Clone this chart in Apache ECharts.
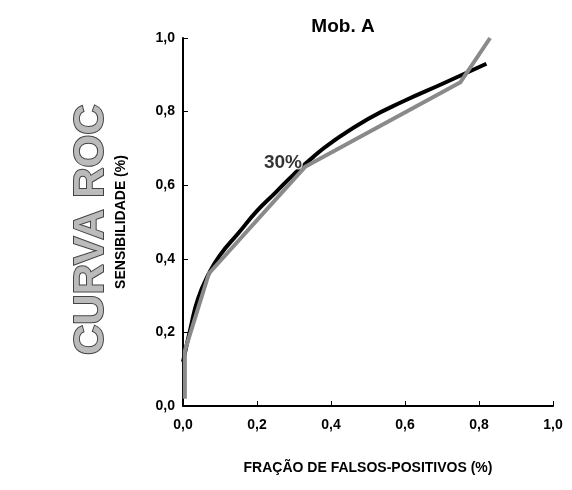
<!DOCTYPE html><html><head><meta charset="utf-8"><script src="https://cdn.jsdelivr.net/npm/echarts@6/dist/echarts.min.js"></script></head><body style="margin:0;background:#fff"><div id="c" style="width:572px;height:490px"></div><script>
const xTicks=[0,0.2,0.4,0.6,0.8,1.0];
const blackCurve=[[0,0.12],[0.02,0.21],[0.04,0.29],[0.07,0.36],[0.1,0.41],[0.15,0.47],[0.2,0.53],[0.25,0.58],[0.3,0.63],[0.35,0.675],[0.4,0.715],[0.5,0.78],[0.6,0.83],[0.7,0.875],[0.82,0.93]];
const grayCurve=[[0.005,0.02],[0.005,0.15],[0.07,0.36],[0.33,0.65],[0.75,0.88],[0.83,1.0]];
const label30=[[0.27,0.66]];
const ch=echarts.init(document.getElementById('c'));
const F='Liberation Sans Narrow, Liberation Sans';
ch.setOption({
title:{text:'Mob. A',left:338,top:12,textAlign:'center',textStyle:{fontFamily:'Liberation Sans',fontWeight:'bold',fontSize:19,color:'#000'}},
graphic:[{type:'text',x:70,y:355,rotation:Math.PI/2,style:{text:'CURVA ROC',fontFamily:'Liberation Sans',fontWeight:'bold',fontSize:42,fill:'#bbb',stroke:'#444',lineWidth:2}}],
grid:{left:183,right:19,top:38,bottom:84},
xAxis:{type:'value',min:0,max:1,interval:0.2,name:'FRAÇÃO DE FALSOS-POSITIVOS (%)',nameLocation:'middle',nameGap:55,nameTextStyle:{fontFamily:'Liberation Sans',fontWeight:'bold',fontSize:14,color:'#000'},axisLine:{lineStyle:{color:'#000',width:2}},axisTick:{inside:true,length:5,lineStyle:{color:'#000'}},splitLine:{show:false},axisLabel:{fontFamily:'Liberation Sans',fontWeight:'bold',fontSize:14,color:'#000',margin:12,formatter:v=>v.toFixed(1).replace('.',',')}},
yAxis:{type:'value',min:0,max:1,interval:0.2,name:'SENSIBILIDADE (%)',nameLocation:'middle',nameGap:55,nameTextStyle:{fontFamily:'Liberation Sans',fontWeight:'bold',fontSize:14,color:'#000'},axisLine:{lineStyle:{color:'#000',width:2}},axisTick:{inside:true,length:5,lineStyle:{color:'#000'}},splitLine:{show:false},axisLabel:{fontFamily:'Liberation Sans',fontWeight:'bold',fontSize:14,color:'#000',formatter:v=>v.toFixed(1).replace('.',',')}},
series:[
{type:'line',data:blackCurve,smooth:true,showSymbol:false,lineStyle:{color:'#000',width:4},z:2},
{type:'line',data:grayCurve,showSymbol:false,lineStyle:{color:'#8a8a8a',width:4},z:3},
{type:'scatter',data:label30,symbolSize:0,label:{show:true,formatter:'30%',fontFamily:'Liberation Sans',fontWeight:'bold',fontSize:19,color:'#000',textBorderColor:'#fff',textBorderWidth:3},z:5}
]});
</script></body></html>
